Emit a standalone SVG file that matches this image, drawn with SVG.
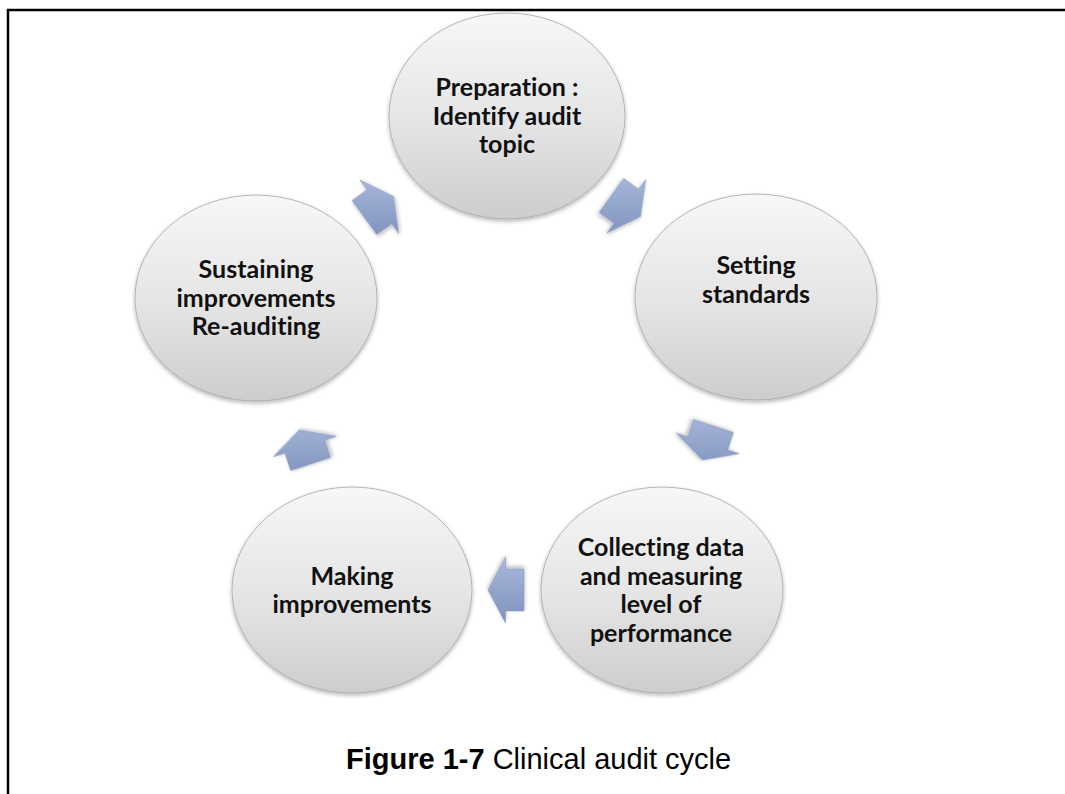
<svg xmlns="http://www.w3.org/2000/svg" width="1065" height="794" viewBox="0 0 1065 794">
  <style>
    .node ellipse { fill: url(#nodeFill); stroke: #a6a6a6; stroke-width: 0.8; filter: url(#soft); }
    .node text { font-family: Lato, "Open Sans", sans-serif; font-weight: 700; font-size: 25px; fill: #111; text-anchor: middle; font-variant-ligatures: none; font-feature-settings: "liga" 0, "dlig" 0, "calt" 0; letter-spacing: 0.01px; }
    .arrow { stroke: #8a9cc4; stroke-width: 0.6; filter: url(#soft); }
    .caption { font-family: "Liberation Sans", Arial, sans-serif; font-size: 29px; fill: #000; }
  </style>
  <defs>
    <linearGradient id="nodeFill" x1="0" y1="0" x2="0" y2="1">
      <stop offset="0" stop-color="#f7f7f7"/>
      <stop offset="0.55" stop-color="#e4e4e4"/>
      <stop offset="1" stop-color="#cdcdcd"/>
    </linearGradient>
    <linearGradient id="arrowFill">
      <stop offset="0" stop-color="#a9b8db"/>
      <stop offset="1" stop-color="#7f92bd"/>
    </linearGradient>
    <!-- one copy per arrow, turned back so light always falls from above -->
    <linearGradient id="ag1" href="#arrowFill" gradientUnits="userSpaceOnUse" x1="0" y1="-32" x2="0" y2="32" gradientTransform="rotate(-36)"/>
    <linearGradient id="ag2" href="#arrowFill" gradientUnits="userSpaceOnUse" x1="0" y1="-32" x2="0" y2="32" gradientTransform="rotate(-108)"/>
    <linearGradient id="ag3" href="#arrowFill" gradientUnits="userSpaceOnUse" x1="0" y1="-32" x2="0" y2="32" gradientTransform="rotate(-180)"/>
    <linearGradient id="ag4" href="#arrowFill" gradientUnits="userSpaceOnUse" x1="0" y1="-32" x2="0" y2="32" gradientTransform="rotate(-252)"/>
    <linearGradient id="ag5" href="#arrowFill" gradientUnits="userSpaceOnUse" x1="0" y1="-32" x2="0" y2="32" gradientTransform="rotate(-324)"/>
    <filter id="soft" x="-20%" y="-20%" width="140%" height="140%">
      <feGaussianBlur in="SourceAlpha" stdDeviation="2"/>
      <feOffset dx="0" dy="2" result="b"/>
      <feComponentTransfer><feFuncA type="linear" slope="0.3"/></feComponentTransfer>
      <feMerge><feMergeNode/><feMergeNode in="SourceGraphic"/></feMerge>
    </filter>
    <!-- block arrow pointing along +x, centred on the origin -->
    <path id="blockArrow" d="M-18,-21 H0.5 V-33 L18,0 L0.5,33 V21 H-18 Z"/>
  </defs>

  <rect width="1065" height="794" fill="#fff"/>
  <!-- frame: top and left edges only -->
  <path d="M8,794 V10 H1065" fill="none" stroke="#000" stroke-width="2.5"/>

  <g id="connectors">
    <use href="#blockArrow" class="arrow" fill="url(#ag1)" transform="translate(626,206) rotate(36)"/>
    <use href="#blockArrow" class="arrow" fill="url(#ag2)" transform="translate(708,443) rotate(108)"/>
    <use href="#blockArrow" class="arrow" fill="url(#ag3)" transform="translate(506,590) rotate(180)"/>
    <use href="#blockArrow" class="arrow" fill="url(#ag4)" transform="translate(305,447) rotate(252)"/>
    <use href="#blockArrow" class="arrow" fill="url(#ag5)" transform="translate(379,207) rotate(324)"/>
  </g>

  <g id="node-preparation" class="node">
    <ellipse cx="507" cy="116" rx="118" ry="103"/>
    <text x="507" y="96">Preparation :</text>
    <text x="507" y="125">Identify audit</text>
    <text x="507" y="153">topic</text>
  </g>

  <g id="node-standards" class="node">
    <ellipse cx="756" cy="297" rx="121" ry="103"/>
    <text x="756" y="274">Setting</text>
    <text x="756" y="303">standards</text>
  </g>

  <g id="node-collecting" class="node">
    <ellipse cx="662" cy="590" rx="121" ry="103"/>
    <text x="661" y="556">Collecting data</text>
    <text x="661" y="585">and measuring</text>
    <text x="661" y="613">level of</text>
    <text x="661" y="642">performance</text>
  </g>

  <g id="node-improvements" class="node">
    <ellipse cx="352" cy="590" rx="120" ry="103"/>
    <text x="352" y="585">Making</text>
    <text x="352" y="613">improvements</text>
  </g>

  <g id="node-sustaining" class="node">
    <ellipse cx="256" cy="298" rx="121" ry="103"/>
    <text x="256" y="278">Sustaining</text>
    <text x="256" y="307">improvements</text>
    <text x="256" y="335">Re-auditing</text>
  </g>

  <text class="caption" x="346" y="769"><tspan font-weight="700">Figure 1-7</tspan> Clinical audit cycle</text>
</svg>
